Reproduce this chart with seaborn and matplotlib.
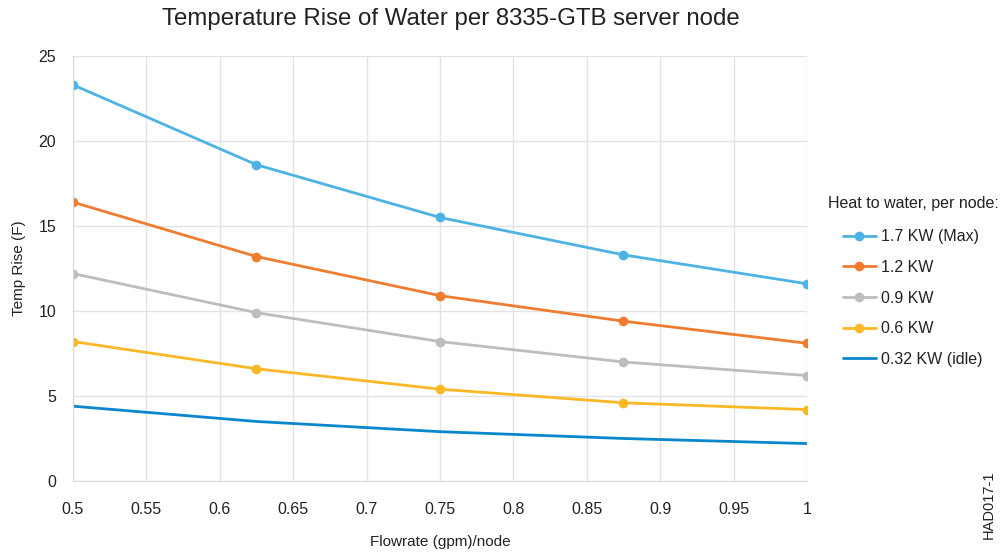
import numpy as np
import pandas as pd
import matplotlib
matplotlib.use("Agg")
import matplotlib.pyplot as plt
import seaborn as sns

# Flowrate per node (gpm)
flowrate = [0.5, 0.625, 0.75, 0.875, 1.0]

# Temperature rise (F) for each heat load
rise_17 = [23.3, 18.6, 15.5, 13.3, 11.6]
rise_12 = [16.4, 13.2, 10.9, 9.4, 8.1]
rise_09 = [12.2, 9.9, 8.2, 7.0, 6.2]
rise_06 = [8.2, 6.6, 5.4, 4.6, 4.2]
rise_032 = [4.4, 3.5, 2.9, 2.5, 2.2]

series_names = ["1.7 KW (Max)", "1.2 KW", "0.9 KW", "0.6 KW", "0.32 KW (idle)"]
series_values = [rise_17, rise_12, rise_09, rise_06, rise_032]
series_colors = ["#4DB3E4", "#EE7D31", "#BDBDBD", "#FBB826", "#0A86CC"]
series_markers = ["o", "o", "o", "o", ""]

rows = []
for name, vals in zip(series_names, series_values):
    for x, y in zip(flowrate, vals):
        rows.append({"Flowrate": x, "Rise": y, "Load": name})
df = pd.DataFrame(rows)

sns.set_style("white")
plt.rcParams["font.family"] = ["Liberation Sans", "DejaVu Sans"]

fig = plt.figure(figsize=(10.01, 5.54), dpi=100)
ax = fig.add_axes([0.0729, 0.1318, 0.7333, 0.7672])

for name, color, mk in zip(series_names, series_colors, series_markers):
    sub = df[df["Load"] == name]
    sns.lineplot(data=sub, x="Flowrate", y="Rise", ax=ax, color=color,
                 marker=mk if mk else None, markersize=7, markeredgewidth=0,
                 linewidth=2, label=name)

ax.set_xlim(0.5, 1.0)
ax.set_ylim(0, 25)
ticks_x = np.round(np.arange(0.5, 1.0001, 0.05), 2)
ax.set_xticks(ticks_x)
ax.set_xticklabels([f"{v:g}" for v in ticks_x])
ax.set_yticks([0, 5, 10, 15, 20, 25])
ax.grid(True, color="#E3E3E3", linewidth=1)
ax.set_axisbelow(True)
for s in ["top", "right"]:
    ax.spines[s].set_visible(False)
for s in ["left", "bottom"]:
    ax.spines[s].set_color("#D9D9D9")
ax.tick_params(axis="both", length=0, labelsize=11.5, colors="#222222")
ax.tick_params(axis="x", pad=15)
ax.tick_params(axis="y", pad=12)
ax.set_xlabel("Flowrate (gpm)/node", fontsize=11, color="#222222", labelpad=13)
ax.set_ylabel("Temp Rise (F)", fontsize=11, color="#222222", labelpad=9)

fig.suptitle("Temperature Rise of Water per 8335-GTB server node",
             x=0.45, y=0.985, fontsize=17.3, color="#222222")

ax.text(1.0286, 0.654, "Heat to water, per node:", transform=ax.transAxes,
        fontsize=11.5, color="#222222", ha="left", va="center")
leg = ax.legend(loc="upper left", bbox_to_anchor=(1.049, 0.592),
                frameon=False, fontsize=11.5, labelspacing=0.98,
                handlelength=2.05, handletextpad=0.35, borderpad=0,
                borderaxespad=0)
for t in leg.get_texts():
    t.set_color("#222222")

fig.text(0.988, 0.088, "HAD017-1", rotation=90, fontsize=10.5,
         ha="center", va="center", color="#222222")

fig.savefig("out.png", dpi=100)
